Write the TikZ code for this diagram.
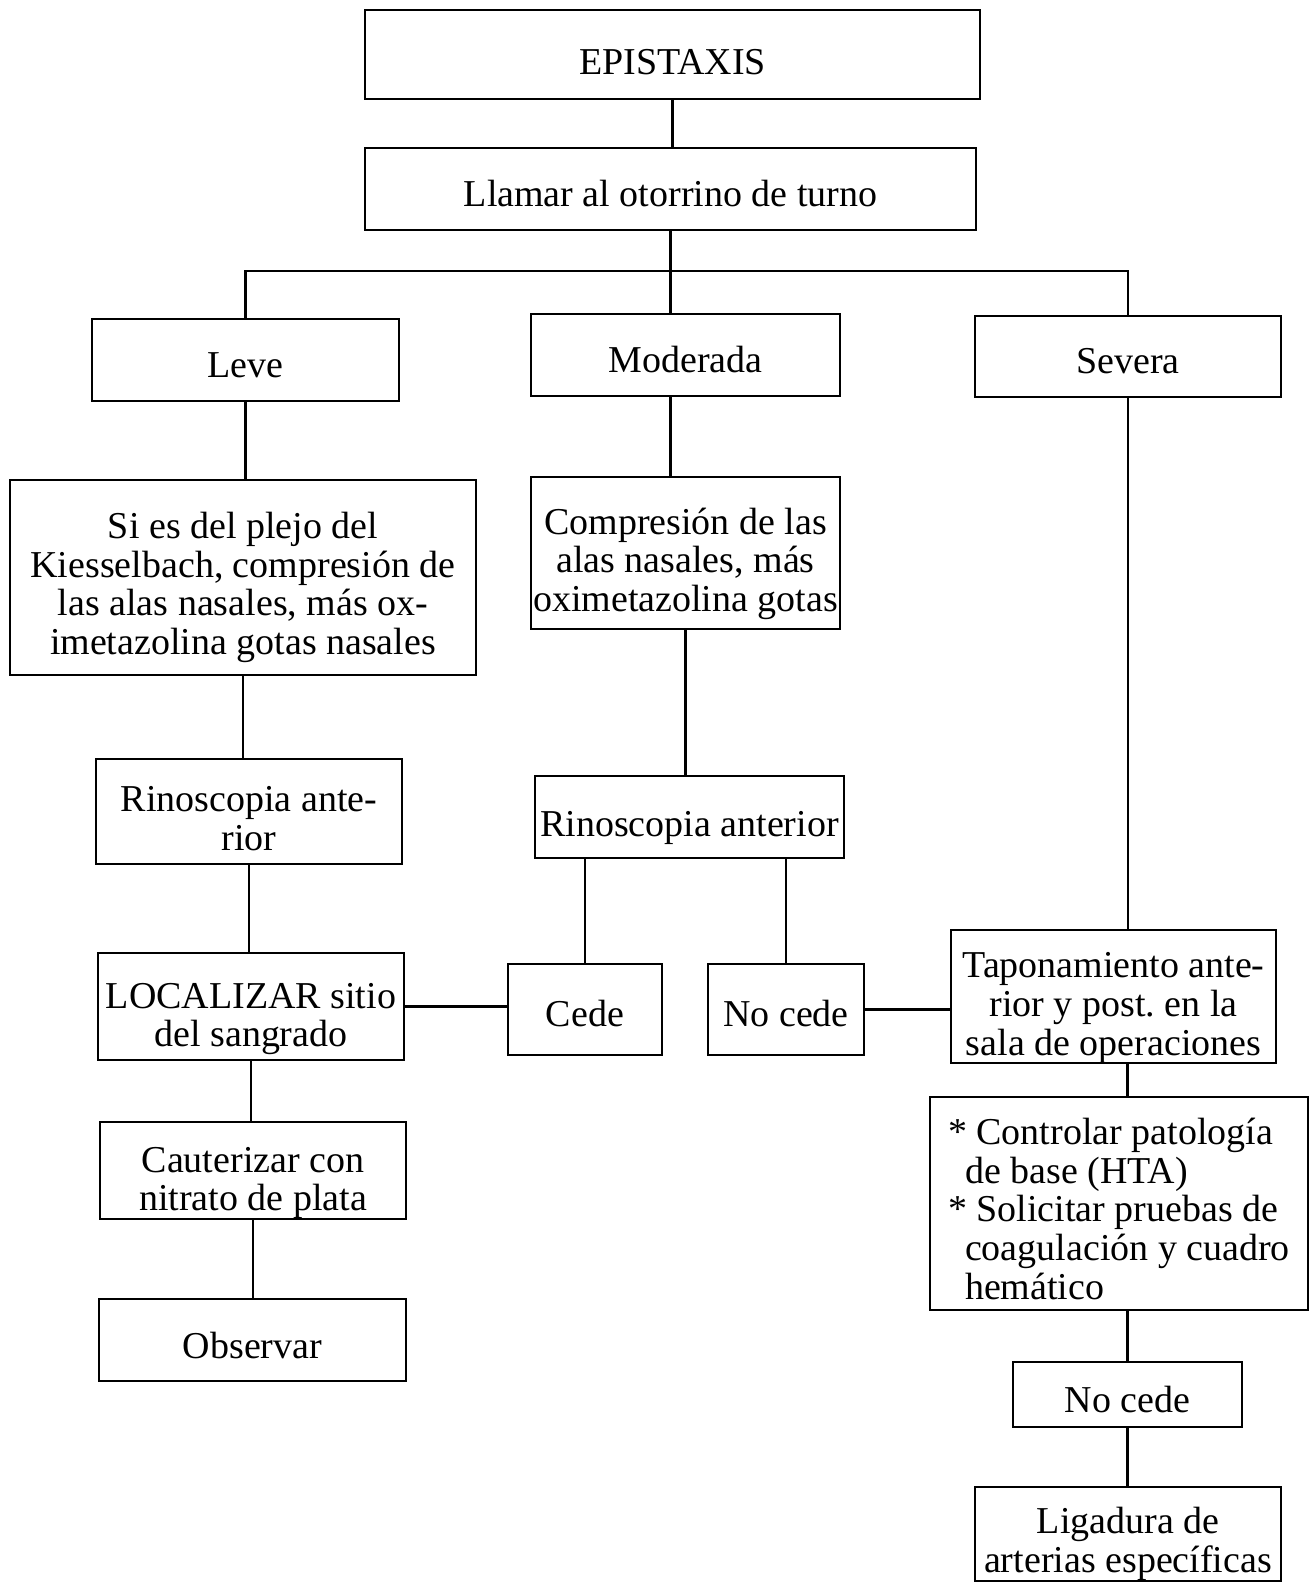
\documentclass[tikz,border=0pt]{standalone}
\usepackage{fontspec}
\setmainfont{Liberation Serif}

\newcommand\dn[1]{\rule{0pt}{#1}}
\tikzset{box/.style={draw,line width=.6pt,inner sep=0pt,align=center,font=\fontsize{10.8}{11}\selectfont}}

\begin{document}
\begin{tikzpicture}[x=0.01cm,y=-0.01cm,line width=.6pt]
		\useasboundingbox (0,0) rectangle (1315,1583);

		\node[box,minimum width=6.15cm,minimum height=.89cm] (epi) at (672.5,54.5) {\dn{4.1mm}EPISTAXIS};
		\node[box,minimum width=6.11cm,minimum height=.82cm] (llamar) at (670.5,189) {\dn{3.5mm}Llamar al otorrino de turno};

		\node[box,minimum width=3.07cm,minimum height=.82cm] (leve) at (245.5,360) {\dn{3.5mm}Leve};
		\node[box,minimum width=3.09cm,minimum height=.82cm] (mod) at (685.5,355) {\dn{3.6mm}Moderada};
		\node[box,minimum width=3.06cm,minimum height=.81cm] (sev) at (1128,356.5) {\dn{3.5mm}Severa};

		\node[box,minimum width=4.66cm,minimum height=1.95cm] (si) at (243,577.5) {\dn{4.6mm}Si es del plejo del\\Kiesselbach, compresión de\\las alas nasales, más ox-\\imetazolina gotas nasales};
		\node[box,minimum width=3.06cm,minimum height=1.05cm] (rin1) at (249,811.5) {\dn{3.9mm}Rinoscopia ante-\\rior};
		\node[box,minimum width=3.06cm,minimum height=1.07cm] (loc) at (251,1006.5) {\dn{5mm}LOCALIZAR sitio\\del sangrado};
		\node[box,minimum width=3.06cm,minimum height=.97cm] (caut) at (253,1170.5) {\dn{5mm}Cauterizar con\\nitrato de plata};
		\node[box,minimum width=3.07cm,minimum height=.82cm] (obs) at (252.5,1340) {\dn{3.7mm}Observar};

		\node[box,minimum width=3.09cm,minimum height=1.52cm] (comp) at (685.5,553) {\dn{4.8mm}Compresión de las\\alas nasales, más\\oximetazolina gotas};
		\node[box,minimum width=3.09cm,minimum height=.82cm] (rin2) at (689.5,817) {\dn{4.8mm}Rinoscopia anterior};
		\node[box,minimum width=1.54cm,minimum height=.91cm] (cede) at (585,1009.5) {\dn{3.5mm}Cede};
		\node[box,minimum width=1.56cm,minimum height=.91cm] (nocede) at (786,1009.5) {\dn{3.5mm}No cede};

		\node[box,minimum width=3.25cm,minimum height=1.33cm] (tapon) at (1113.5,996.5) {\dn{4.8mm}Taponamiento ante-\\rior y post.\ en la\\sala de operaciones};
		\node[box,minimum width=3.78cm,minimum height=2.13cm,align=left] (ctrl) at (1119,1203.5) {\dn{3.7mm}*~Controlar patología\\\hspace{1.7mm}de base (HTA)\\*~Solicitar pruebas de\\\hspace{1.7mm}coagulación y cuadro\\\hspace{1.7mm}hemático};
		\node[box,minimum width=2.29cm,minimum height=.65cm] (nocedeb) at (1127.5,1394.5) {\dn{3.7mm}No cede};
		\node[box,minimum width=3.06cm,minimum height=.94cm] (lig) at (1128,1534) {\dn{4.6mm}Ligadura de\\arterias específicas};

		\coordinate (bus) at (0,271);
		\draw (epi.south) -- (epi.south |- llamar.north);
		\draw (llamar.south) -- (llamar.south |- mod.north);
		\draw (leve.north) |- (bus -| sev.north) -- (sev.north);
		\draw (llamar.south |- mod.south) -- (llamar.south |- comp.north);

		\foreach \from/\to in {leve/si,si/rin1,rin1/loc,loc/caut,caut/obs,comp/rin2,sev/tapon,nocedeb/lig}
			\draw (\from.south) -- (\from.south |- \to.north);
		\foreach \to in {cede,nocede}
			\draw (\to.north |- rin2.south) -- (\to.north);

		\draw (loc.east) -- (loc.east -| cede.west);
		\draw (nocede.east) -- (nocede.east -| tapon.west);
		\draw (nocedeb.north |- tapon.south) -- (nocedeb.north |- ctrl.north);
		\draw (nocedeb.north |- ctrl.south) -- (nocedeb.north);
	\end{tikzpicture}
\end{document}
